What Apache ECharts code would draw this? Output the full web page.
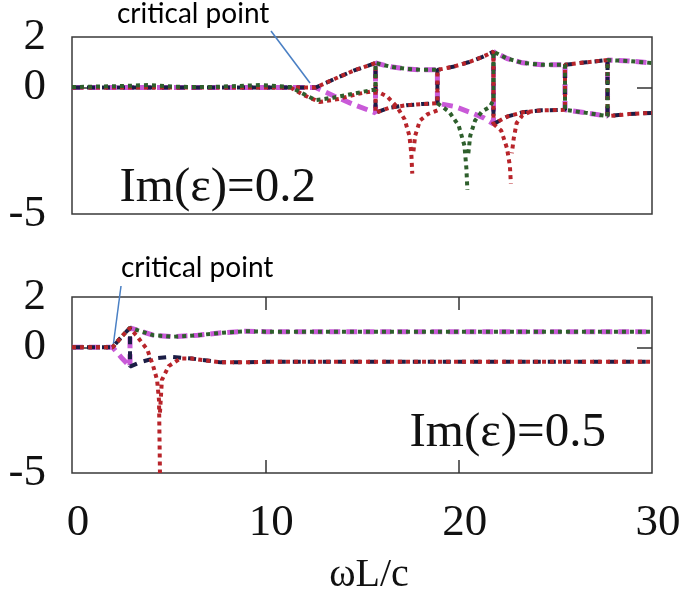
<!DOCTYPE html>
<html>
<head>
<meta charset="utf-8">
<script src="https://cdn.jsdelivr.net/npm/echarts@6/dist/echarts.min.js"></script>
<style>
  html, body { margin: 0; padding: 0; background: #fff; }
  #chart { width: 685px; height: 597px; }
</style>
</head>
<body>
<div id="chart"></div>
<script>
// ---- data ----
var xTicks = [0, 10, 20, 30];
var yTicks = [-5, 0, 2];

// top panel, Im(eps)=0.2 : upper / lower branches between the switching points
var flatTop = [[0, 0], [12.6, 0]];
var greenFlatTop = [[0, 0.02], [2.5, 0.06], [4, 0.1], [5.5, 0.03], [7, 0.02], [8.5, 0.06], [9.8, 0.1], [11.3, 0.02]];
var U1 = [[12.6, 0], [13.6, 0.35], [14.6, 0.68], [15.7, 0.97]];
var U2 = [[15.7, 0.97], [16.5, 0.82], [17.3, 0.74], [18.1, 0.7], [18.9, 0.7]];
var U3 = [[18.9, 0.7], [19.7, 0.82], [20.5, 1.0], [21.2, 1.2], [21.8, 1.42]];
var U4 = [[21.8, 1.42], [22.5, 1.15], [23.3, 0.98], [24.3, 0.9], [25.5, 0.9]];
var U5 = [[25.5, 0.9], [26.6, 1.0], [27.7, 1.09]];
var U6 = [[27.7, 1.09], [28.8, 1.05], [30, 0.97]];
var L1 = [[12.6, 0], [13.6, -0.35], [14.6, -0.68], [15.7, -1.0]];
var L2 = [[15.7, -1.0], [16.4, -0.8], [17.3, -0.7], [18.1, -0.65], [18.9, -0.62]];
var L3 = [[18.9, -0.62], [19.8, -0.75], [20.6, -0.98], [21.3, -1.2], [21.8, -1.44]];
var L4 = [[21.8, -1.44], [22.5, -1.15], [23.3, -0.98], [24.3, -0.9], [25.5, -0.88]];
var L5 = [[25.5, -0.88], [26.6, -1.0], [27.7, -1.13]];
var L6 = [[27.7, -1.13], [28.8, -1.05], [30, -1.0]];
// dips going down
var redDipA = [[11.3, 0], [12, -0.3], [12.8, -0.57], [13.8, -0.45], [14.8, -0.25], [15.7, -0.12], [16.3, -0.35], [16.8, -0.75], [17.2, -1.25], [17.45, -1.9], [17.55, -2.6], [17.6, -3.4]];
var redDipB = [[18.9, -0.9], [18.4, -1.05], [18.0, -1.3], [17.75, -1.9], [17.65, -2.6]];
var redDipC = [[21.8, -1.44], [22.2, -1.7], [22.5, -2.4], [22.65, -3.1], [22.7, -3.8]];
var redDipD = [[23.7, -0.95], [23.3, -1.1], [23.0, -1.4], [22.85, -2.0], [22.75, -2.6]];
var greenDipA = [[11.3, 0.02], [12.6, -0.5], [13.5, -0.4], [14.5, -0.25], [15.5, -0.1], [15.7, -0.1]];
var greenDipB = [[18.9, -0.62], [19.5, -0.95], [20.0, -1.5], [20.3, -2.3], [20.4, -3.2], [20.45, -4.05]];
var greenDipC = [[20.5, -2.6], [20.6, -1.9], [20.85, -1.3], [21.2, -0.95], [21.6, -0.77], [21.8, -0.5]];

// bottom panel, Im(eps)=0.5
var flatBot = [[0, 0], [2.1, 0]];
var bUpRise = [[2.6, 0.45], [3.0, 0.77]];
var bLowRise = [[2.6, -0.45], [3.0, -0.77]];
var bUp = [[3.0, 0.77], [3.5, 0.65], [4.2, 0.48], [5.2, 0.42], [6.5, 0.48], [7.8, 0.58], [9.0, 0.64], [10, 0.62], [30, 0.62]];
var bLow = [[3.0, -0.77], [3.5, -0.6], [4.2, -0.45], [5.1, -0.38], [6.2, -0.45], [7.7, -0.6], [9, -0.6], [10, -0.58], [30, -0.58]];
var bLowTail = [[6.2, -0.45], [7.7, -0.6], [9, -0.6], [10, -0.58], [30, -0.58]];
var redDipBot = [[3.4, 0.4], [3.9, -0.1], [4.2, -0.75], [4.4, -1.3], [4.5, -2.1], [4.55, -5]];
var redLegBot = [[4.55, -2.6], [4.65, -1.3], [5.0, -0.75], [5.6, -0.45]];

var GAP = ['-', '-'];

var cMag = '#c95ad8', cNavy = '#1b1d45', cRed = '#b8242a', cGreen = '#2e5f2c';

function seg() { return [].concat.apply([], arguments); }

var chart = echarts.init(document.getElementById('chart'), null, { renderer: 'canvas' });

function ln(name, grid, data, color, width, dash) {
  return {
    name: name, type: 'line', xAxisIndex: grid * 2, yAxisIndex: grid * 2,
    data: data, symbol: 'none', clip: true, animation: false,
    lineStyle: { color: color, width: width, type: dash, cap: 'butt' }
  };
}

var serif = 'Liberation Serif, Times New Roman, serif';
var tickStyle = { color: '#333', width: 1.5 };

function xAxes(grid, showLabels) {
  return [{
    type: 'value', gridIndex: grid, min: 0, max: 30, interval: 10, position: 'bottom',
    axisLine: { show: false, onZero: false }, splitLine: { show: false },
    axisTick: { show: grid === 1, inside: true, length: 13, customValues: [10, 20], lineStyle: tickStyle },
    axisLabel: { show: showLabels, customValues: xTicks, margin: 28, padding: [0, 0, 0, 12], color: '#111', fontFamily: serif, fontSize: 45 },
    name: showLabels ? 'ωL/c' : '', nameLocation: 'middle', nameGap: 82,
    nameTextStyle: { color: '#111', fontFamily: serif, fontSize: 40, padding: [0, 0, 0, 14] }
  }, {
    type: 'value', gridIndex: grid, min: 0, max: 30, interval: 10, position: 'top',
    axisLine: { show: false, onZero: false }, splitLine: { show: false }, axisLabel: { show: false },
    axisTick: { show: grid === 1, inside: true, length: 13, customValues: [10, 20], lineStyle: tickStyle }
  }];
}
function yAxes(grid) {
  return [{
    type: 'value', gridIndex: grid, min: -5, max: 2, interval: 1, position: 'left',
    axisLine: { show: false, onZero: false }, splitLine: { show: false },
    axisTick: { show: true, inside: true, length: 15, customValues: [0], lineStyle: tickStyle },
    axisLabel: { customValues: yTicks, margin: 26, color: '#111', fontFamily: serif, fontSize: 45 }
  }, {
    type: 'value', gridIndex: grid, min: -5, max: 2, interval: 1, position: 'right',
    axisLine: { show: false, onZero: false }, splitLine: { show: false }, axisLabel: { show: false },
    axisTick: { show: true, inside: true, length: 15, customValues: [0], lineStyle: tickStyle }
  }];
}

var option = {
  backgroundColor: '#fff',
  animation: false,
  grid: [
    { left: 72, top: 37, width: 580, height: 177, show: true, borderColor: '#3a3a3a', borderWidth: 1.5, backgroundColor: 'transparent' },
    { left: 72, top: 297, width: 580, height: 176, show: true, borderColor: '#3a3a3a', borderWidth: 1.5, backgroundColor: 'transparent' }
  ],
  xAxis: xAxes(0, false).concat(xAxes(1, true)),
  yAxis: yAxes(0).concat(yAxes(1)),
  series: [
    // top panel
    ln('mag', 0, seg(flatTop, L1, U2, L3, U4, L5, U6), cMag, 5, [11, 6]),
    ln('navy', 0, seg(flatTop, U1, L2, U3, L4, U5, L6), cNavy, 4, [8, 7]),
    ln('red', 0, seg(flatTop, U1, L2, U3, L4, U5, L6, [GAP], redDipA, [GAP], redDipB, [GAP], redDipC, [GAP], redDipD), cRed, 4, [4, 4]),
    ln('green', 0, seg(greenFlatTop, greenDipA, U2, [GAP], greenDipB, [GAP], greenDipC, U4, L5, U6), cGreen, 4, [4, 4]),
    // bottom panel
    ln('mag', 1, seg(flatBot, bLowRise, bUp), cMag, 5, [11, 6]),
    ln('navy', 1, seg(flatBot, bUpRise, bLow), cNavy, 4, [8, 7]),
    ln('green', 1, seg(flatBot, bUpRise, bUp), cGreen, 4, [4, 4]),
    ln('red', 1, seg(flatBot, bUpRise, redDipBot, [GAP], redLegBot, bLowTail), cRed, 4, [4, 4])
  ],
  graphic: [
    { type: 'text', left: 117, top: 0, style: { text: 'critical point', font: '28px Lato, sans-serif', fill: '#000' } },
    { type: 'line', shape: { x1: 271, y1: 31, x2: 310, y2: 83 }, style: { stroke: '#4a80c4', lineWidth: 1.5 } },
    { type: 'text', left: 121, top: 254, style: { text: 'critical point', font: '28px Lato, sans-serif', fill: '#000' } },
    { type: 'line', shape: { x1: 121, y1: 286, x2: 113, y2: 347 }, style: { stroke: '#4a80c4', lineWidth: 1.5 } },
    { type: 'text', right: 369, top: 164, style: { text: 'Im(ε)=0.2', font: '49px "Liberation Serif", serif', fill: '#111' } },
    { type: 'text', right: 79, top: 409, style: { text: 'Im(ε)=0.5', font: '49px "Liberation Serif", serif', fill: '#111' } }
  ]
};

chart.setOption(option);
window.addEventListener('resize', function () { chart.resize(); });
</script>
</body>
</html>
